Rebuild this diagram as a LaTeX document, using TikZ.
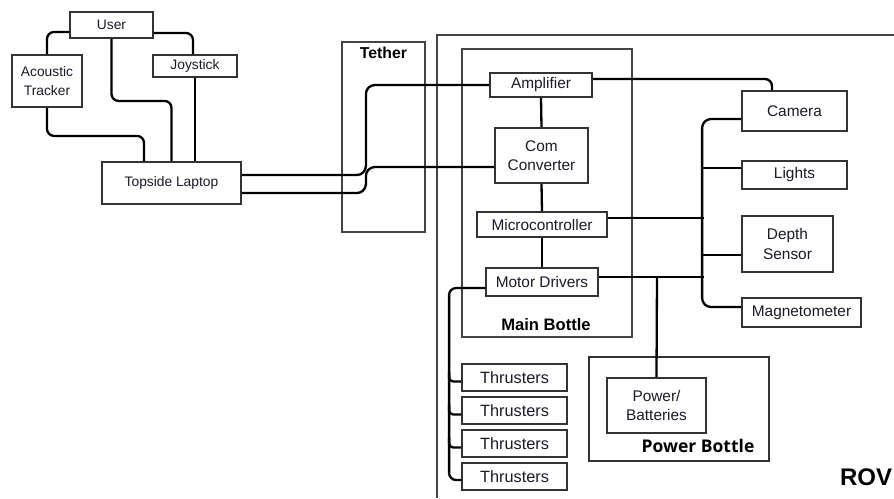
\documentclass[tikz,border=0pt]{standalone}
\usepackage{fontspec}
\setmainfont{Liberation Sans}
\newfontfamily\osans{Open Sans}
\definecolor{boxc}{HTML}{333333}
\definecolor{contc}{HTML}{444444}
\definecolor{txtc}{HTML}{1A1A2A}
\begin{document}
\begin{tikzpicture}[x=1pt,y=-1pt,
  blk/.style={draw=boxc,line width=1.8pt,fill=white,inner sep=0pt,align=center,text=txtc,
    font=\fontsize{15.4}{19.5}\selectfont},
  blks/.style={blk,font=\fontsize{13.8}{19.5}\selectfont},
  blkt/.style={blk,font=\fontsize{16.3}{19.5}\selectfont},
  cont/.style={draw=contc,line width=1.2pt},
  conn/.style={draw=black,line width=2.3pt,rounded corners=7pt},
  lbl/.style={font=\bfseries\fontsize{15.8}{18}\selectfont,text=black}]
\useasboundingbox (0,0) rectangle (894,498);
% containers
\draw[cont] (342,42) rectangle (425,232);
\draw[cont] (437,498) -- (437,35) -- (894,35);
\draw[cont] (462,49) rectangle (632,337);
\draw[draw=boxc,line width=1.8pt] (589,357) rectangle (769,461);
\node[lbl] (tetherlbl) at (383.5,53) {Tether};
\node[lbl,font=\bfseries\fontsize{16.6}{18}\selectfont] (mainlbl) at (546,325) {Main Bottle};
\node[font=\osans\bfseries\fontsize{17.5}{18}\selectfont,text=black] (powerlbl) at (698,446) {Power Bottle};
\node[font=\bfseries\fontsize{24}{26}\selectfont,text=black] (rovlbl) at (866,477) {ROV};
% blocks
\node[blks,minimum width=83pt,minimum height=26pt] (user) at (111.5,25) {User};
\node[blks,minimum width=70pt,minimum height=52pt] (acoustic) at (47,81) {Acoustic\\Tracker};
\node[blks,minimum width=84pt,minimum height=22pt] (joystick) at (195,66) {Joystick};
\node[blks,minimum width=139pt,minimum height=42pt] (laptop) at (171.5,183) {Topside Laptop};
\node[blk,minimum width=102pt,minimum height=24pt] (amp) at (541,85) {Amplifier};
\node[blk,minimum width=93pt,minimum height=55pt] (com) at (541.5,155.5) {Com\\Converter};
\node[blk,minimum width=130pt,minimum height=25pt] (micro) at (542,224.5) {Microcontroller};
\node[blk,minimum width=112pt,minimum height=28pt] (motor) at (542,282) {Motor Drivers};
\node[blk,minimum width=105pt,minimum height=40pt] (camera) at (794.5,111) {Camera};
\node[blk,minimum width=105pt,minimum height=28pt] (lights) at (794.5,175) {Lights};
\node[blk,minimum width=91pt,minimum height=56pt] (depth) at (787.5,244) {Depth\\Sensor};
\node[blk,minimum width=119pt,minimum height=29pt] (magneto) at (801.5,312.5) {Magnetometer};
\node[blk,minimum width=99pt,minimum height=55pt] (pbatt) at (656.5,405.5) {Power/\\Batteries};
\node[blkt,minimum width=105pt,minimum height=27pt] (thr1) at (514.5,377.5) {Thrusters};
\node[blkt,minimum width=105pt,minimum height=27pt] (thr2) at (514.5,410.5) {Thrusters};
\node[blkt,minimum width=105pt,minimum height=27pt] (thr3) at (514.5,443.5) {Thrusters};
\node[blkt,minimum width=105pt,minimum height=27pt] (thr4) at (514.5,476.5) {Thrusters};
% connectors
\draw[conn] ([yshift=-7pt]user.west) -| (acoustic.north);
\draw[conn] ([yshift=-8pt]user.east) -| ([xshift=-2pt]joystick.north);
\draw[conn] (user.south) -- ++(0,62) -| (laptop.north);
\draw[conn] (acoustic.south) -- ++(0,28) -| ([xshift=-27.5pt]laptop.north);
\draw[conn] (joystick.south) -- (joystick.south |- laptop.north);
\draw[conn,rounded corners=9pt] ([yshift=8pt]laptop.east) -- ++(124,0) |- (amp.west);
\draw[conn,rounded corners=9pt] ([yshift=-10pt]laptop.east) -- ++(124,0) |- ([yshift=-11.5pt]com.west);
\draw[conn] (amp.south) -- (com.north);
\draw[conn] (com.south) -- (micro.north);
\draw[conn] (micro.south) -- (motor.north);
\draw[conn] ([yshift=6pt]amp.east) -| ([xshift=-22.5pt]camera.north);
\draw[conn,rounded corners=9pt] ([yshift=-8pt]camera.west) -- ++(-39,0) -- ++(0,188) -- ([yshift=5.5pt]magneto.west);
\draw[conn] ([yshift=7pt]lights.west) -- ++(-39,0);
\draw[conn] ([yshift=-11pt]depth.west) -- ++(-39,0);
\draw[conn] ([yshift=6.5pt]micro.east) -- ++(96,0);
\draw[conn] ([yshift=5pt]motor.east) -- ++(105,0);
\coordinate (pj) at (657,277);
\draw[conn] (pj) -- (pbatt.north);
\draw[conn] ([yshift=-6pt]motor.west) -- ++(-36,0) -- ++(0,192) -- ([yshift=-3.5pt]thr4.west);
\foreach \t in {thr1,thr2,thr3}
  \draw[conn,rounded corners=4pt] ([yshift=-4pt]\t.west) -- ++(-12,0) -- ++(0,-10);
\end{tikzpicture}
\end{document}
